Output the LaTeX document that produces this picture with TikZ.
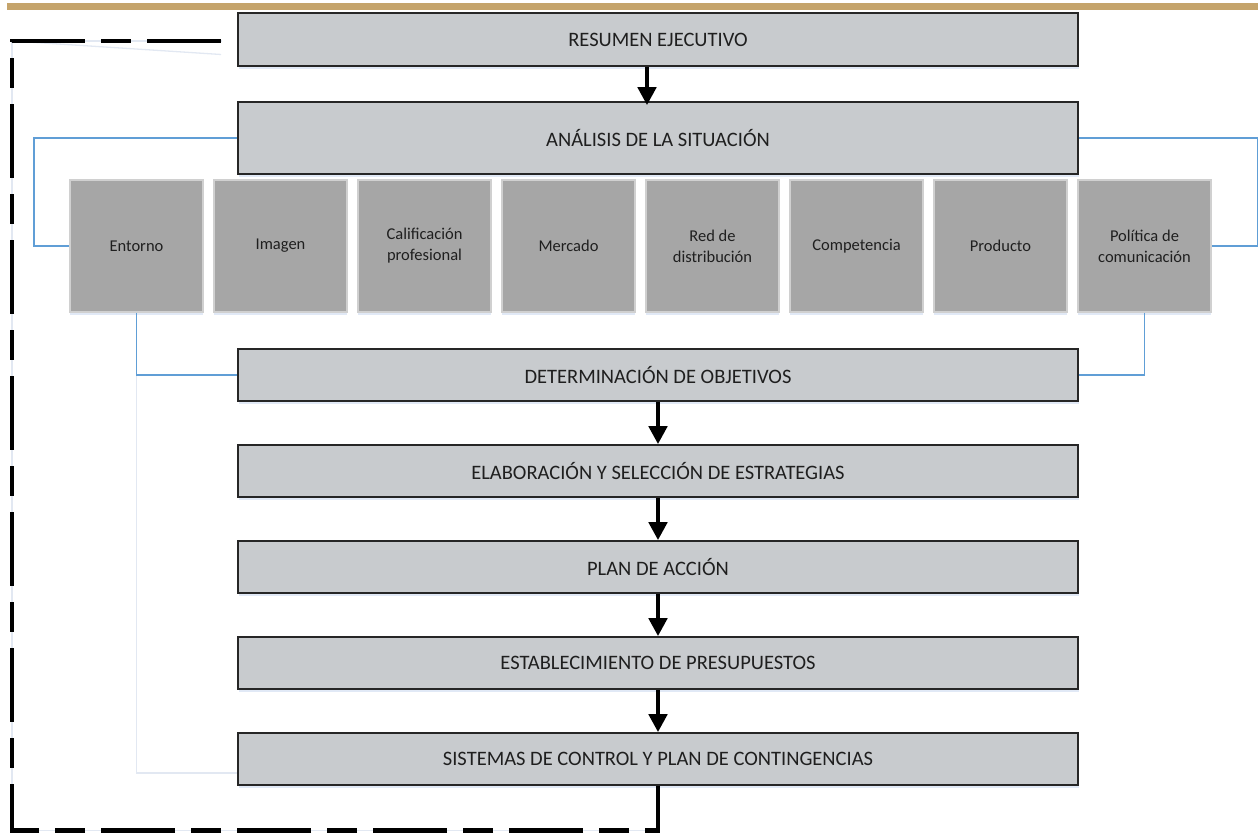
\documentclass[tikz,border=0pt]{standalone}
\usepackage{fontspec}
\setmainfont{Carlito}
\usepackage{tikz}
\usetikzlibrary{
	arrows.meta,
	calc,
	positioning,
	shadows,
}
\definecolor{boxgray}{RGB}{200,203,206}
\definecolor{tilegray}{RGB}{166,166,166}
\definecolor{tileedge}{RGB}{208,208,208}
\definecolor{linkblue}{RGB}{96,158,214}
\definecolor{faintblue}{RGB}{226,232,242}
\definecolor{bargold}{RGB}{197,164,107}
\definecolor{shadeblue}{RGB}{212,224,242}
\tikzset{stage/.style={draw=black!85,line width=1.6pt,fill=boxgray,minimum width=840pt,minimum height=52pt,inner sep=0pt,text=black!88,font=\fontsize{20.5}{24}\selectfont,drop shadow={shadow xshift=1pt,shadow yshift=-3pt,fill=shadeblue,opacity=.7},}}
\tikzset{tile/.style={draw=tileedge,line width=1.2pt,fill=tilegray,minimum width=133pt,minimum height=132pt,inner sep=0pt,align=center,text=black!88,font=\fontsize{16.5}{21}\selectfont,drop shadow={shadow xshift=0pt,shadow yshift=-3pt,fill=shadeblue,opacity=.7},}}
\tikzset{bluelink/.style={draw=linkblue,line width=1.8pt,}}
\tikzset{faintlink/.style={draw=faintblue,line width=1.3pt,}}
\tikzset{flowarrow/.style={-{Triangle[width=18pt,length=18pt]},line width=4.5pt,}}
\tikzset{feedbackline/.style={line width=4.8pt,dash pattern=on 74pt off 16pt on 30pt off 16pt,dash phase=16pt,}}

\begin{document}
\begin{tikzpicture}[x=1pt,y=-1pt]
\useasboundingbox (0,0) rectangle (1258,833);
\fill[bargold] (7,3) rectangle (1258,9.5);

% main stages
\node[stage,minimum height=53pt](res) at(658,39.5) {RESUMEN EJECUTIVO};
\node[stage,minimum height=72pt](ana) at(658,138) {ANÁLISIS DE LA SITUACIÓN};
\node[stage](det) at(658,375) {DETERMINACIÓN DE OBJETIVOS};
\node[stage](ela) at(658,471) {ELABORACIÓN Y SELECCIÓN DE ESTRATEGIAS};
\node[stage](pla) at(658,567) {PLAN DE ACCIÓN};
\node[stage](est) at(658,663) {ESTABLECIMIENTO DE PRESUPUESTOS};
\node[stage](sis) at(658,759) {SISTEMAS DE CONTROL Y PLAN DE CONTINGENCIAS};

% analysis tiles
\node[tile](ent) at(136.5,246) {Entorno};
\node[tile](ima) at(280.5,246) {Imagen};
\node[tile](cal) at(424.5,246) {Calificación\\profesional};
\node[tile](mer) at(568.5,246) {Mercado};
\node[tile](red) at(712.5,246) {Red de\\distribución};
\node[tile](com) at(856.5,246) {Competencia};
\node[tile](pro) at(1000.5,246) {Producto};
\node[tile](pol) at(1144.5,246) {Política de\\comunicación};

\coordinate(fbcorner) at(12,41);
\coordinate(fbend) at(222,41);

\draw[faintlink] (ent.south) |- ([yshift=-14pt]sis.west);
\draw[faintlink] (fbcorner) -- ($(res.west)+(-16,15)$);
\draw[faintlink] (sis.south) -- ++(0,45) -| (fbcorner) -- (fbend);

\draw[bluelink] (ana.west) -- ++(-203,0) |- (ent.west);
\draw[bluelink] (ana.east) -- ++(179,0) |- (pol.east);
\draw[bluelink] (ent.south) |- (det.west);
\draw[bluelink] (pol.south) |- (det.east);

\draw[flowarrow] ([xshift=-11pt]res.south) -- ([xshift=-11pt,yshift=-4pt]ana.north);
\draw[flowarrow] (det) -- (ela);
\draw[flowarrow] (ela) -- (pla);
\draw[flowarrow] (pla) -- (est);
\draw[flowarrow] (est) -- (sis);

\draw[feedbackline] (sis.south) -- ++(0,45) -| (fbcorner) -- (fbend);

\end{tikzpicture}
\end{document}
